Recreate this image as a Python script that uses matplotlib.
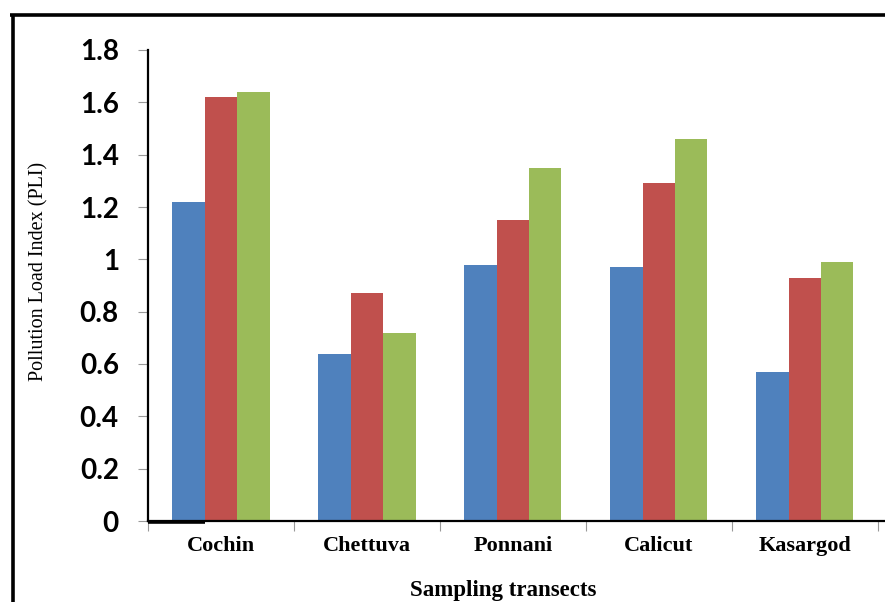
import matplotlib
matplotlib.use("Agg")
import matplotlib.pyplot as plt
from matplotlib.lines import Line2D
import numpy as np

# Pollution Load Index per sampling transect, three series each
categories = ["Cochin", "Chettuva", "Ponnani", "Calicut", "Kasargod"]
series_blue = [1.22, 0.64, 0.98, 0.97, 0.57]
series_red = [1.62, 0.87, 1.15, 1.29, 0.93]
series_green = [1.64, 0.72, 1.35, 1.46, 0.99]
y_ticks = [0, 0.2, 0.4, 0.6, 0.8, 1, 1.2, 1.4, 1.6, 1.8]
y_tick_labels = ["0", "0.2", "0.4", "0.6", "0.8", "1", "1.2", "1.4", "1.6", "1.8"]

colors = ["#4F81BD", "#C0504D", "#9BBB59"]

W, H = 885, 602
fig = plt.figure(figsize=(W / 100, H / 100), dpi=100)

left_px, right_px, top_px, bottom_px = 148, 885, 50, 521
ax = fig.add_axes([left_px / W, 1 - bottom_px / H,
                   (right_px - left_px) / W, (bottom_px - top_px) / H])

x = np.arange(len(categories))
bw = 0.222
for i, (vals, c) in enumerate(zip([series_blue, series_red, series_green], colors)):
    ax.bar(x + (i - 1) * bw, vals, width=bw, color=c, edgecolor="none", zorder=2)

ax.set_xlim(-0.5, 4.55)
ax.set_ylim(0, 1.8)

# spines
for s in ["top", "right"]:
    ax.spines[s].set_visible(False)
ax.spines["left"].set_linewidth(1.6)
ax.spines["bottom"].set_linewidth(1.6)

# y ticks
ax.set_yticks(y_ticks)
ax.set_yticklabels(y_tick_labels, fontfamily="Lato", fontweight="bold", fontsize=20)
ax.tick_params(axis="y", direction="out", length=7, width=0.8, color="#999999", pad=14)

# x ticks: labels at centers, tick marks at boundaries
ax.set_xticks(x)
ax.set_xticklabels(categories, fontfamily="Liberation Serif", fontweight="bold", fontsize=16)
ax.tick_params(axis="x", which="major", length=0, pad=11)
ax.set_xticks(np.arange(-0.5, 5.0, 1.0), minor=True)
ax.tick_params(axis="x", which="minor", direction="out", length=7, width=0.8, color="#999999")

ax.set_ylabel("Pollution Load Index (PLI)", fontfamily="Liberation Serif", fontsize=14.5)
ax.yaxis.set_label_coords((48 - left_px) / (right_px - left_px), 0.53)
ax.set_xlabel("Sampling transects", fontfamily="Liberation Serif", fontweight="bold", fontsize=16.5)
ax.xaxis.set_label_coords((503 - left_px) / (right_px - left_px), -0.125)

# outer frame lines
fig.add_artist(Line2D([10 / W, 1.0], [1 - 15 / H, 1 - 15 / H], color="black", lw=2.6,
                      solid_capstyle="butt", transform=fig.transFigure))
fig.add_artist(Line2D([12.5 / W, 12.5 / W], [1 - 15 / H, 0.0], color="black", lw=2.6,
                      solid_capstyle="butt", transform=fig.transFigure))
# heavier stub at the start of the x axis
fig.add_artist(Line2D([left_px / W, 205 / W], [1 - 521.5 / H, 1 - 521.5 / H], color="black", lw=2.6,
                      solid_capstyle="butt", transform=fig.transFigure))

fig.savefig("out.png", dpi=100)
